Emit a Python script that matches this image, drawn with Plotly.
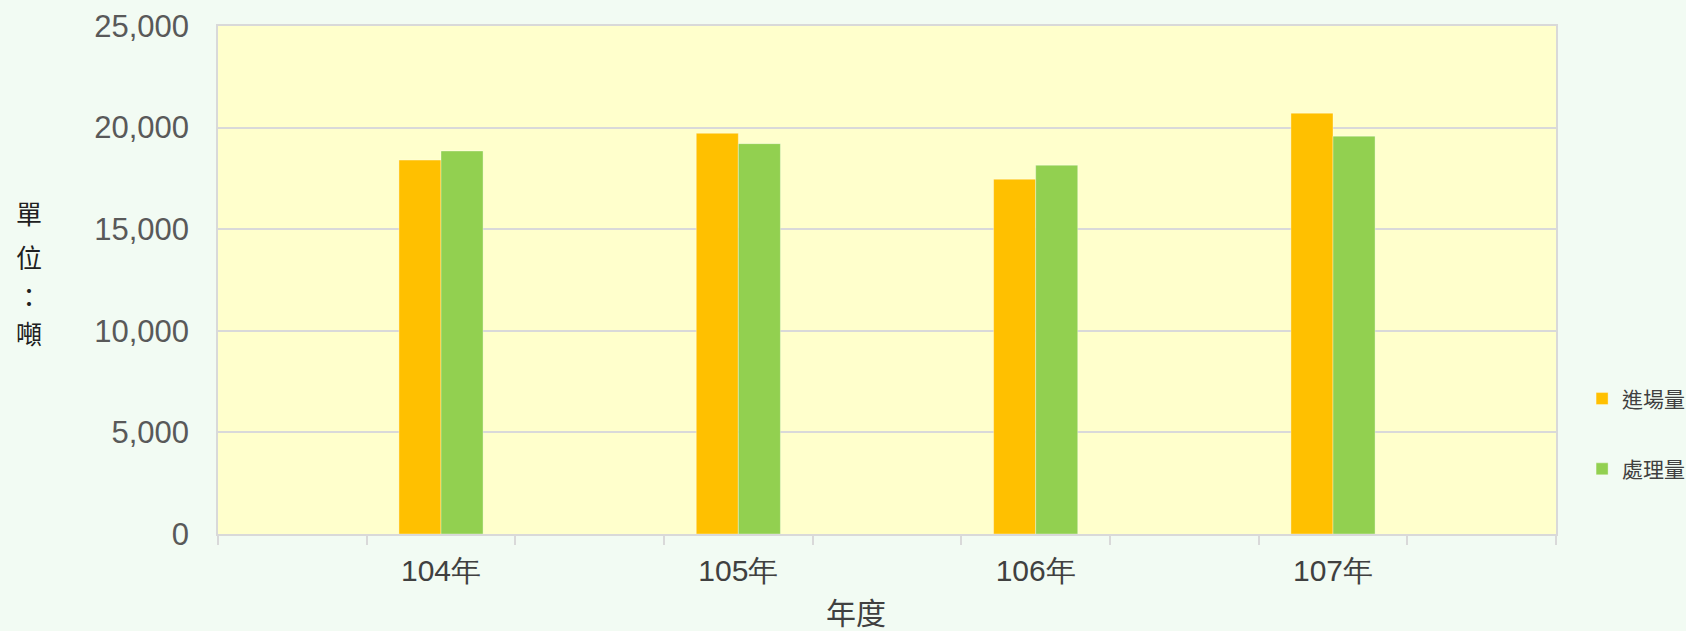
import plotly.graph_objects as go

# categories (Excel-style axis with blank slots between the years)
categories = ["\u200b", "104年", "\u200b\u200b", "105年", "\u200b\u200b\u200b", "106年", "\u200b\u200b\u200b\u200b", "107年", "\u200b\u200b\u200b\u200b\u200b"]
intake = [None, 18400, None, 19720, None, 17460, None, 20710, None]      # 進場量
treated = [None, 18850, None, 19210, None, 18150, None, 19580, None]     # 處理量
y_ticks = [0, 5000, 10000, 15000, 20000, 25000]
y_title_chars = ["單", "位", "：", "噸"]

font_main = "Liberation Sans, Arial, sans-serif"
font_cjk = "Noto Sans CJK TC, Noto Sans CJK SC, sans-serif"

fig = go.Figure()
fig.add_trace(go.Bar(
    x=categories, y=intake, name="進場量", legendgroup="a",
    marker=dict(color="#ffc000", line=dict(color="rgba(255,255,255,0.35)", width=1)),
))
fig.add_trace(go.Bar(
    x=categories, y=treated, name="處理量", legendgroup="b",
    marker=dict(color="#92d050", line=dict(color="rgba(255,255,255,0.35)", width=1)),
))

# vertical stacked y-axis title, one character per annotation
title_y = [0.632, 0.547, 0.470, 0.397]
annotations = [
    dict(text="年度", xref="paper", yref="paper", x=0.477, y=-0.151,
         xanchor="center", yanchor="middle", showarrow=False,
         font=dict(family=font_cjk, size=30, color="#404040")),
]
for ch, yy in zip(y_title_chars, title_y):
    annotations.append(dict(text=ch, xref="paper", yref="paper", x=-0.1415, y=yy,
                            xanchor="center", yanchor="middle", showarrow=False,
                            font=dict(family=font_cjk, size=26, color="#202020")))

fig.update_layout(
    width=1686, height=631,
    margin=dict(l=218, r=130, t=26, b=97, autoexpand=False),
    paper_bgcolor="#f2fbf3",
    plot_bgcolor="#ffffcc",
    barmode="group",
    bargap=0.434,
    bargroupgap=0,
    showlegend=True,
    legend=dict(
        x=1.0195, xanchor="left", y=0.197, yanchor="middle",
        font=dict(family=font_cjk, size=21, color="#404040"),
        bgcolor="rgba(0,0,0,0)", tracegroupgap=40, traceorder="grouped",
        itemwidth=30,
    ),
    xaxis=dict(
        type="category",
        categoryorder="array", categoryarray=categories,
        tickson="boundaries",
        ticks="outside", ticklen=9, tickcolor="#d9d9d9", tickwidth=1.5,
        showline=True, linecolor="#d9d9d9", linewidth=1.5, mirror=True,
        showgrid=False,
        tickfont=dict(family=font_main, size=30, color="#404040"),
        ticklabelstandoff=9,
    ),
    yaxis=dict(
        range=[0, 25000],
        tickvals=y_ticks,
        tickformat=",",
        ticks="",
        showline=True, linecolor="#d9d9d9", linewidth=1.5, mirror=True,
        showgrid=True, gridcolor="#d9d9d9", gridwidth=1.5,
        zeroline=False,
        tickfont=dict(family=font_main, size=31, color="#595959"),
        ticklabelstandoff=21,
    ),
    annotations=annotations,
)

fig.write_html(
    "out.html",
    config={"displayModeBar": False},
    post_script="document.body.style.margin='0';document.body.style.overflow='hidden';"
                "document.body.style.background='#f2fbf3';",
)
